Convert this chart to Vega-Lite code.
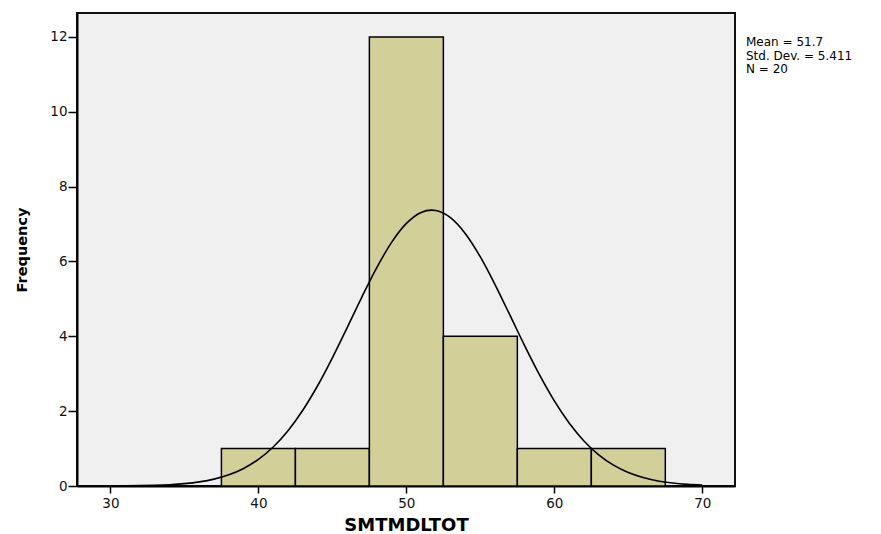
{
  "$schema": "https://vega.github.io/schema/vega-lite/v6.json",
  "autosize": "none",
  "width": 658,
  "height": 473,
  "padding": {"left": 77, "top": 13, "right": 146, "bottom": 48},
  "background": "white",
  "title": {
    "text": ["Mean = 51.7", "Std. Dev. = 5.411", "N = 20"],
    "orient": "top",
    "anchor": "end",
    "frame": "group",
    "align": "left",
    "baseline": "top",
    "offset": 0,
    "dx": 11,
    "dy": 63,
    "font": "DejaVu Sans",
    "fontSize": 12,
    "fontWeight": "normal",
    "lineHeight": 13.5,
    "color": "#000"
  },
  "config": {
    "view": {"fill": "#f0f0f0", "stroke": "#111", "strokeWidth": 2},
    "axis": {
      "labelFont": "DejaVu Sans",
      "labelFontSize": 13.5,
      "labelColor": "#111",
      "titleFont": "DejaVu Sans",
      "titleFontWeight": "bold",
      "titleColor": "#000",
      "domainColor": "#000",
      "domainWidth": 2,
      "tickColor": "#000",
      "tickWidth": 1.5,
      "grid": false
    }
  },
  "layer": [
    {
      "data": {
        "values": [
          {"bin_start": 37.5, "bin_end": 42.5, "count": 1},
          {"bin_start": 42.5, "bin_end": 47.5, "count": 1},
          {"bin_start": 47.5, "bin_end": 52.5, "count": 12},
          {"bin_start": 52.5, "bin_end": 57.5, "count": 4},
          {"bin_start": 57.5, "bin_end": 62.5, "count": 1},
          {"bin_start": 62.5, "bin_end": 67.5, "count": 1}
        ]
      },
      "mark": {"type": "rect", "fill": "#d3cf98", "stroke": "#000", "strokeWidth": 1.5},
      "encoding": {
        "x": {
          "field": "bin_start",
          "type": "quantitative",
          "scale": {"domain": [27.74, 72.21], "nice": false, "zero": false},
          "axis": {
            "title": "SMTMDLTOT",
            "titleFontSize": 18,
            "titlePadding": 7,
            "values": [30, 40, 50, 60, 70],
            "tickSize": 7,
            "labelPadding": 3
          }
        },
        "x2": {"field": "bin_end"},
        "y": {
          "field": "count",
          "type": "quantitative",
          "scale": {"domain": [0, 12.64], "nice": false},
          "axis": {
            "title": "Frequency",
            "titleFontSize": 14.5,
            "titlePadding": 20,
            "values": [0, 2, 4, 6, 8, 10, 12],
            "tickSize": 9,
            "labelPadding": 1
          }
        },
        "y2": {"datum": 0}
      }
    },
    {
      "data": {
        "values": [
          {"x": 30, "y": 0.0024},
          {"x": 31, "y": 0.0049},
          {"x": 32, "y": 0.0098},
          {"x": 33, "y": 0.0188},
          {"x": 34, "y": 0.035},
          {"x": 35, "y": 0.063},
          {"x": 36, "y": 0.1096},
          {"x": 37, "y": 0.1841},
          {"x": 38, "y": 0.299},
          {"x": 39, "y": 0.4693},
          {"x": 40, "y": 0.7118},
          {"x": 41, "y": 1.0435},
          {"x": 42, "y": 1.4786},
          {"x": 43, "y": 2.0245},
          {"x": 44, "y": 2.6787},
          {"x": 45, "y": 3.4255},
          {"x": 46, "y": 4.2334},
          {"x": 47, "y": 5.0564},
          {"x": 48, "y": 5.836},
          {"x": 49, "y": 6.51},
          {"x": 50, "y": 7.018},
          {"x": 51, "y": 7.3116},
          {"x": 51.7, "y": 7.373},
          {"x": 52, "y": 7.3617},
          {"x": 53, "y": 7.1633},
          {"x": 54, "y": 6.7362},
          {"x": 55, "y": 6.1218},
          {"x": 56, "y": 5.3766},
          {"x": 57, "y": 4.5638},
          {"x": 58, "y": 3.7436},
          {"x": 59, "y": 2.9676},
          {"x": 60, "y": 2.2736},
          {"x": 61, "y": 1.6835},
          {"x": 62, "y": 1.2046},
          {"x": 63, "y": 0.833},
          {"x": 64, "y": 0.5567},
          {"x": 65, "y": 0.3597},
          {"x": 66, "y": 0.2245},
          {"x": 67, "y": 0.1354},
          {"x": 68, "y": 0.0789},
          {"x": 69, "y": 0.0444},
          {"x": 70, "y": 0.0242}
        ]
      },
      "mark": {"type": "line", "color": "#000", "strokeWidth": 1.6, "interpolate": "monotone"},
      "encoding": {
        "x": {"field": "x", "type": "quantitative"},
        "y": {"field": "y", "type": "quantitative"}
      }
    }
  ]
}
